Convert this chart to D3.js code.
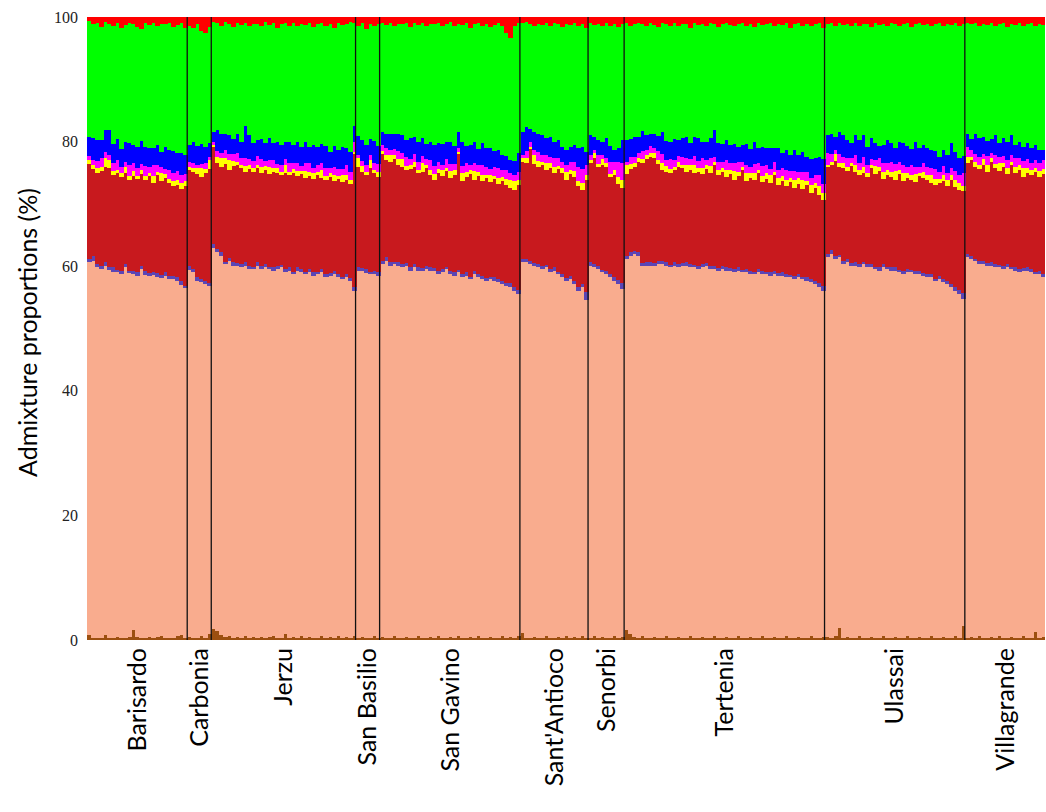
<!DOCTYPE html>
<html lang="en">
<head>
  <meta charset="UTF-8" />
  <title>Admixture proportions</title>
  <style>
    body { margin: 0; background: #fff; }
    .tick text { font-family: "Liberation Serif", "Times New Roman", serif; font-size: 16px; fill: #222; }
    .lab { font-family: Lato, "Open Sans", sans-serif; font-size: 25px; fill: #000; }
  </style>
</head>
<body>
  <div id="chart"></div>
  <script src="https://d3js.org/d3.v7.min.js"></script>
  <script>
    // populations, in plot order, and number of individuals in each
    var groups = ["Barisardo", "Carbonia", "Jerzu", "San Basilio", "San Gavino", "Sant'Antioco", "Senorbi", "Tertenia", "Ulassai", "Villagrande"]
    var groupSizes = [25, 6, 36, 6, 35, 17, 9, 50, 35, 20]
    var yTicks = [0, 20, 40, 60, 80, 100]

    // ancestry components per individual (%), bottom to top
    var brown = [
      .8,.3,.3,.4,.8,.4,.3,.5,.3,.4,.5,1.6,.5,.4,.3,.5,.4,.5,.6,.4,.3,.4,.6,.8,.4,
      .5,.3,.4,.6,.4,.9,
      1.8,1.4,.8,.5,.6,.4,.5,.3,.6,.4,.5,.3,.5,.4,.5,.6,.3,.4,.9,.4,.5,.3,.6,.4,.5,.3,.4,.7,.4,.5,.3,.6,.4,.5,.4,.6,
      .3,.5,.4,.3,.6,.4,
      .5,.3,.4,.6,.3,.4,.5,.3,.4,.6,.4,.3,.5,.4,.7,.3,.4,.5,.3,.6,.4,.3,.5,.4,.7,.3,.4,.5,.3,.4,.6,.4,.5,.4,.6,
      1.2,.4,.3,.5,.3,.4,.6,.3,.4,.5,.3,.6,.4,.5,.3,.6,.4,
      .4,.6,.3,.5,.4,.3,.6,.4,.5,
      1.6,1.0,.5,.4,.6,.3,.4,.5,.3,.4,.6,.3,.4,.5,.3,.4,.6,.3,.4,.5,.3,.4,.6,.3,.4,.5,.3,.4,.6,.3,.4,.5,.3,.4,.6,.3,.4,.5,.3,.4,.6,.3,.4,.5,.3,.4,.6,.3,.4,.5,
      .5,.4,.6,2.0,.4,.5,.3,.4,.6,.3,.4,.5,.3,.4,.6,.3,.4,.5,.3,.4,.6,.3,.4,.5,.3,.4,.6,.3,.4,.5,.3,.4,.6,.3,2.2,
      .4,.5,.3,.6,.4,.3,.5,.4,.6,.3,.4,.5,.3,.4,.6,.3,.4,1.3,.4,.5
    ]
    var salmon = [
      59.8,60.6,59.6,59.2,59.3,59.0,58.8,58.5,58.5,59.4,58.4,57.1,58.0,59.2,58.3,57.9,58.2,57.8,57.5,58.0,57.7,57.5,57.1,56.2,56.1,
      58.9,58.7,57.2,56.8,56.7,55.9,
      61.2,60.8,60.9,59.8,60.2,59.7,59.6,59.5,59.5,59.1,59.0,59.8,59.0,59.4,59.0,58.7,59.2,59.4,58.1,58.9,58.2,59.0,58.4,58.3,58.5,58.2,58.3,58.3,57.8,58.0,58.4,57.6,57.5,57.7,57.2,55.4,
      58.9,58.7,58.5,58.4,58.1,58.1,
      59.8,60.6,59.7,59.7,59.8,59.4,59.6,59.0,59.4,58.7,58.9,59.2,58.8,58.9,58.0,58.7,59.1,58.2,58.2,58.4,57.8,58.2,57.4,58.3,57.5,57.6,57.2,57.4,57.3,57.0,56.5,56.4,56.1,55.6,54.9,
      59.4,60.2,60.0,59.6,59.5,59.1,59.2,58.7,58.9,58.2,57.9,57.0,57.5,56.6,55.7,56.0,54.2,
      59.7,59.2,59.2,58.5,58.3,57.9,57.0,56.7,55.8,
      59.6,60.7,61.5,61.3,59.5,59.8,59.7,59.6,60.0,59.9,59.5,59.5,59.7,59.3,59.8,59.7,59.2,59.5,59.1,59.3,59.8,59.1,58.9,59.0,59.1,58.8,59.0,58.6,58.7,58.7,58.6,58.2,58.4,58.6,58.1,58.4,58.1,58.2,58.2,58.1,57.6,57.9,57.5,57.7,57.6,57.2,56.8,56.8,56.2,55.5,
      60.9,61.6,60.5,59.4,59.9,60.1,59.8,59.7,59.2,60.0,59.4,59.3,59.2,58.9,59.2,59.2,58.9,58.8,58.7,58.3,58.4,58.7,58.3,58.2,58.2,57.8,57.6,57.3,57.5,56.9,56.8,56.2,55.4,55.2,52.5,
      61.0,60.6,60.5,59.7,59.9,59.8,59.6,59.4,59.2,59.2,59.4,59.0,59.0,58.6,58.7,59.0,58.6,57.4,58.3,57.7
    ]
    var purple = [
      .5,.8,.4,.5,.6,.5,.7,.4,.5,.6,.4,.5,.6,.5,.7,.5,.4,.6,.5,.7,.4,.6,.5,.6,.4,
      .6,.5,.7,.5,.6,.5,
      .6,.5,.6,.4,.5,.6,.4,.5,.5,.6,.4,.5,.6,.5,.4,.6,.5,.4,.6,.5,.4,.6,.5,.4,.6,.5,.4,.6,.5,.4,.6,.5,.4,.6,.5,.7,
      .6,.5,.6,.4,.5,.6,
      .6,.5,.6,.4,.5,.6,.4,.5,.6,.5,.4,.6,.5,.4,.6,.5,.4,.6,.5,.4,.6,.5,.4,.6,.5,.6,.5,.4,.6,.5,.6,.5,.7,.6,.7,
      .5,.6,.5,.4,.6,.5,.4,.6,.5,.4,.6,.5,.6,.5,.7,.5,1.2,
      .5,.6,.5,.4,.6,.5,.6,.7,1.0,
      .5,.6,.5,.6,.4,.5,.6,.4,.5,.6,.5,.4,.6,.5,.4,.6,.5,.4,.6,.5,.4,.6,.5,.4,.6,.5,.4,.6,.5,.4,.6,.5,.4,.6,.5,.4,.6,.5,.4,.6,.5,.4,.6,.5,.4,.6,.5,.6,.7,.8,
      .5,.6,.5,.4,.6,.5,.4,.6,.5,.4,.6,.5,.4,.6,.5,.4,.6,.5,.4,.6,.5,.4,.6,.5,.4,.6,.5,.4,.6,.5,.6,.5,.6,.7,1.0,
      .6,.5,.4,.6,.5,.4,.6,.5,.4,.6,.5,.4,.6,.5,.4,.6,.5,.4,.6,.5
    ]
    var darkred = [
      15.3,13.9,14.6,15.2,15.3,15.9,14.8,15.5,15.0,14.6,14.6,15.3,14.9,14.7,14.5,15.5,14.3,15.7,15.0,15.1,15.0,14.4,14.9,14.8,15.9,
      15.4,15.7,16.5,16.4,17.2,18.3,
      15.6,13.9,13.6,15.7,14.2,15.4,15.8,15.4,14.6,15.5,15.3,15.1,14.9,15.1,14.9,15.3,14.9,14.5,15.4,14.8,15.8,14.5,15.3,15.1,14.9,15.0,15.5,14.5,15.1,15.4,14.3,15.3,15.2,15.1,15.1,21.3,
      16.2,15.5,15.1,16.7,15.7,15.2,
      17.1,15.6,16.1,16.5,15.7,15.6,14.9,15.8,15.5,15.1,15.5,15.6,14.8,14.1,15.7,14.9,15.4,14.8,15.7,18.6,14.8,15.3,16.5,14.6,15.8,15.2,16.0,15.2,15.8,15.3,15.9,15.7,15.3,15.6,16.8,
      15.7,15.3,18.0,15.9,15.5,16.2,15.2,16.2,15.2,16.5,16.1,15.7,16.3,16.7,16.1,15.2,18.0,
      15.9,16.9,15.9,16.9,16.7,15.6,16.4,15.4,15.3,
      13.1,13.3,13.5,14.5,16.0,16.6,16.9,16.8,15.6,14.5,14.6,14.7,14.7,15.7,15.2,14.5,15.2,14.7,15.0,14.5,15.1,14.9,16.2,14.9,15.0,14.5,15.1,14.3,14.7,16.0,14.0,15.0,14.7,15.3,14.3,14.9,14.2,15.4,14.1,14.6,14.2,14.9,14.1,14.5,14.1,14.8,13.9,14.8,14.1,13.8,
      14.1,13.7,15.3,14.2,14.8,14.2,15.6,14.4,14.3,14.2,13.9,15.5,14.9,15.4,13.7,14.7,14.4,14.1,15.4,14.4,14.6,14.5,14.2,15.2,15.2,15.0,14.7,15.1,14.8,15.7,15.1,16.7,16.1,16.1,16.4,
      14.5,15.4,14.8,14.7,15.5,14.7,16.1,15.4,15.1,15.8,14.5,16.4,15.1,15.9,14.6,15.1,15.1,16.1,15.0,16.1
    ]
    var yellow = [
      .7,.6,.8,.6,1.3,1.2,.7,.5,.7,.9,.6,.8,.5,.6,.7,.5,1.2,.5,1.4,.6,.6,.8,.7,1.0,.9,
      .6,.5,.9,1.5,.7,1.4,
      .2,.9,1.5,1.0,1.6,.8,.5,.6,.9,.7,.6,.5,1.0,.7,1.2,.6,.8,.5,1.3,.6,.7,.9,.5,1.1,.6,.9,.5,1.4,.7,.6,1.0,.5,1.2,.8,.7,.3,
      1.3,.9,.5,1.2,.6,.8,
      .5,.8,1.0,.6,.9,1.2,.7,.6,.9,.5,1.4,.6,.9,1.0,.6,1.1,.5,1.2,.7,.3,1.3,.8,.6,1.4,.7,.9,.6,1.1,.5,.9,.7,1.0,1.3,1.5,.8,
      .5,.8,.3,1.4,1.0,.6,1.2,.7,.9,.5,.8,1.3,.6,1.0,.9,1.1,.8,
      .6,.8,.5,.9,.6,.5,.8,1.1,1.3,
      1.4,.8,.6,.5,.7,.6,.5,.8,.6,1.2,.9,.7,.6,.8,.5,1.0,.7,1.3,.6,.9,.6,1.1,.5,.8,.6,1.2,.7,1.4,.6,.5,1.3,.8,1.2,.6,.9,1.0,1.3,.6,1.1,.8,1.0,.7,1.2,.9,1.4,.6,1.2,.8,1.5,1.2,
      .3,.5,1.1,.6,.9,.7,.5,1.2,.8,1.0,.7,.5,1.3,.6,1.1,.8,.9,1.4,.6,1.2,.9,.7,1.3,.6,1.0,.8,1.2,.9,.7,1.1,1.0,.8,1.2,1.1,.8,
      1.0,.6,.8,.6,.9,1.1,.5,.7,1.3,.6,.9,.5,1.0,.8,1.4,.7,.9,.6,1.0,.8
    ]
    var magenta = [
      .6,.8,1.2,1.5,1.0,.9,1.3,1.6,1.0,.8,1.7,1.2,1.3,1.0,1.6,1.0,1.8,1.1,.9,.8,1.4,1.2,1.5,1.3,1.1,
      .7,.8,.6,.6,.9,.5,
      .5,1.0,.8,1.2,.9,1.1,1.4,1.0,1.3,.9,1.1,1.5,1.2,.8,1.0,1.3,.7,1.1,.9,1.4,1.0,1.2,.8,1.3,1.5,.9,1.2,1.0,1.3,.8,1.4,1.1,.9,1.5,1.2,1.6,
      .6,.8,1.2,.9,1.0,1.3,
      .9,1.2,.8,1.0,1.3,.9,1.5,1.0,1.2,1.4,1.1,.9,1.6,1.3,1.2,.8,1.4,1.1,1.0,.7,1.2,1.5,.9,1.2,1.0,1.6,1.3,1.0,1.4,1.7,1.2,1.5,1.1,.9,1.3,
      .6,1.2,.8,.9,1.5,1.1,1.3,1.0,1.4,1.2,1.0,1.1,1.4,1.5,2.3,2.2,1.6,
      .7,.5,1.4,.6,.8,2.0,1.3,2.4,2.6,
      .6,1.2,1.0,.9,1.3,.8,1.2,.9,1.5,1.4,1.0,1.6,1.1,.9,1.4,1.2,1.0,1.5,1.2,1.6,.9,1.3,.8,1.4,1.1,1.5,1.0,1.2,1.6,.9,1.3,1.0,1.4,1.1,1.7,1.2,1.0,1.5,1.3,1.2,1.6,1.1,1.5,1.0,1.3,1.6,1.2,1.4,1.7,1.4,
      1.8,1.2,.7,1.4,1.0,1.3,.8,1.5,1.1,1.6,1.3,.9,1.0,1.4,1.5,1.2,1.6,1.1,1.3,1.4,1.0,1.6,1.2,1.0,1.5,1.3,1.1,1.6,1.2,1.4,1.1,1.2,1.4,1.3,2.0,
      1.6,1.0,1.2,1.3,.8,1.4,.9,1.5,1.0,1.2,1.4,1.0,1.3,1.1,1.2,1.5,1.1,1.3,1.2,1.4
    ]
    var blue = [
      3.0,3.6,3.3,2.9,3.5,4.0,3.0,3.4,2.8,3.2,3.6,2.9,3.4,3.7,3.1,3.0,2.6,3.2,2.5,3.5,3.3,3.6,2.8,3.4,3.1,
      2.8,3.4,3.0,3.2,2.6,2.3,
      1.6,3.4,3.0,2.6,3.1,2.4,3.0,2.7,5.1,3.8,2.9,2.6,3.2,2.9,3.5,2.7,3.6,3.2,2.8,3.3,2.9,3.5,3.0,3.4,2.6,3.6,2.9,3.1,3.5,2.7,3.3,3.0,3.6,2.8,3.2,2.6,
      3.0,3.4,3.2,2.5,3.6,2.9,
      2.2,2.3,2.6,2.4,2.7,3.0,2.6,3.3,2.8,3.2,2.9,2.4,2.8,3.4,3.0,3.3,2.7,3.5,2.9,2.5,3.8,2.7,3.1,3.4,2.6,3.5,3.0,3.3,2.6,2.9,2.4,2.2,2.0,2.3,3.0,
      3.7,3.8,2.1,2.8,2.9,3.1,2.6,3.2,2.6,2.9,2.4,2.4,2.3,2.6,2.9,3.5,2.1,
      3.3,2.2,2.5,2.1,3.1,2.5,2.0,2.3,3.8,
      3.5,2.8,3.1,2.5,3.2,2.4,1.9,2.2,2.4,3.5,3.0,2.8,3.3,2.5,2.9,3.4,2.6,3.0,3.6,2.7,2.9,3.2,4.3,3.0,2.8,3.3,2.9,3.1,2.5,2.6,3.4,2.8,3.5,2.4,3.0,2.7,3.4,2.2,3.6,2.5,3.1,2.6,3.4,2.8,3.2,2.4,3.0,2.6,2.9,4.0,
      3.0,3.2,2.0,3.6,3.4,3.0,2.3,3.2,3.7,3.5,2.9,3.3,2.6,2.0,2.8,3.6,2.9,2.5,3.2,3.4,3.3,2.6,4.0,2.9,2.8,3.1,3.0,2.9,2.3,2.6,3.0,3.9,3.0,2.6,2.8,
      2.2,1.8,3.3,3.0,2.7,2.4,2.2,3.1,2.2,2.8,2.9,3.3,2.1,2.6,2.3,2.6,2.3,2.4,2.1,1.6
    ]
    var green = [
      18.6,18.2,18.8,18.1,17.4,17.0,19.0,18.6,19.4,18.8,19.2,19.4,19.2,17.9,19.8,19.8,20.2,19.1,20.5,19.7,20.3,19.9,20.6,20.9,20.3,
      19.0,18.3,19.5,18.2,18.4,18.6,
      17.7,17.1,17.3,18.0,17.8,18.0,17.8,18.7,16.6,17.6,19.0,18.6,18.1,19.4,18.2,19.2,18.3,19.3,19.0,18.7,19.6,18.5,19.8,18.7,19.8,19.0,19.6,19.5,19.3,20.5,18.9,20.4,19.5,19.8,20.9,16.5,
      17.7,18.7,18.5,18.4,18.4,19.6,
      17.4,17.4,17.9,17.3,17.7,17.7,18.8,17.9,18.2,18.7,18.5,19.0,19.0,19.3,19.2,18.9,18.9,19.3,19.3,17.4,18.8,19.7,18.9,18.9,20.3,18.9,19.9,19.5,20.2,20.3,20.6,19.8,19.7,21.7,20.9,
      17.4,16.9,16.8,17.0,17.6,17.7,18.5,17.9,19.2,18.6,19.3,20.3,19.6,19.6,19.6,19.7,19.9,
      17.9,17.9,18.6,18.6,18.6,19.3,20.2,19.4,18.5,
      18.7,18.2,18.1,18.4,17.2,17.5,17.8,17.5,17.5,17.5,18.7,18.6,18.7,18.3,18.4,18.0,18.5,18.3,18.2,18.9,18.6,18.4,17.0,18.6,19.3,18.8,19.3,18.9,19.6,19.6,19.0,20.1,18.5,20.0,19.6,19.9,20.1,19.6,19.9,20.5,20.4,20.4,20.1,21.1,20.3,21.3,21.3,21.5,21.5,21.0,
      17.7,17.8,17.9,17.5,17.7,18.6,18.8,18.0,18.4,17.8,19.7,17.9,19.3,19.4,19.5,18.3,19.3,19.9,18.7,19.2,19.7,19.6,18.8,20.1,19.3,19.9,19.8,20.3,21.5,19.9,21.0,19.0,20.7,21.2,21.1,
      17.8,18.4,17.7,18.0,18.2,18.6,18.6,17.6,19.0,18.6,18.4,17.8,19.3,19.1,19.3,19.0,20.1,19.1,20.3,20.1
    ]
    var red = [
      .7,1.2,1.0,1.6,.8,1.1,1.4,1.0,1.8,1.3,1.0,1.2,1.6,2.0,1.0,1.3,.9,1.5,1.1,1.2,1.0,1.6,1.3,1.0,1.8,
      1.5,1.8,1.2,2.2,2.5,1.6,
      .8,1.0,1.5,.8,1.1,1.6,1.0,1.3,.9,1.4,1.2,1.1,1.5,.8,1.3,1.0,1.7,1.2,1.0,1.4,.9,1.5,1.1,1.3,1.0,1.6,1.2,.9,1.4,1.1,1.8,1.0,1.3,1.2,.8,1.0,
      1.4,1.0,2.0,1.2,1.5,1.1,
      1.0,1.3,.9,1.5,1.1,1.2,1.0,1.6,1.0,1.3,.9,1.4,1.1,1.2,1.0,1.5,1.2,.8,1.4,1.1,1.3,1.0,1.7,1.2,.9,1.4,1.1,1.6,1.3,1.0,1.5,2.5,3.3,1.4,1.0,
      1.0,.8,1.2,1.5,1.1,1.3,1.0,1.4,.9,1.2,1.6,1.1,1.3,1.0,1.5,1.2,1.8,
      1.0,1.3,1.1,1.5,.9,1.4,1.1,1.6,1.2,
      1.0,1.4,1.2,.9,1.1,1.5,1.0,1.3,1.6,1.0,1.2,1.4,.9,1.5,1.1,1.2,1.7,1.0,1.3,1.1,1.4,1.0,1.2,1.6,1.1,.9,1.3,1.5,1.2,1.0,1.4,1.1,1.6,1.0,1.3,1.2,.9,1.5,1.1,1.3,1.0,1.7,1.2,1.0,1.4,1.1,1.5,1.2,1.0,1.8,
      1.2,1.0,1.4,.9,1.3,1.1,1.5,1.0,1.4,1.2,1.1,1.6,1.0,1.3,1.1,1.5,1.0,1.2,1.4,1.1,1.0,1.6,1.2,1.0,1.3,1.1,1.5,1.2,1.0,1.4,1.1,1.3,1.0,1.5,1.2,
      .9,1.2,1.0,1.5,1.1,1.3,1.0,1.4,1.2,.9,1.6,1.1,1.3,1.0,1.5,1.2,1.0,1.4,1.1,1.3
    ]

    var keys = ["brown", "salmon", "purple", "darkred", "yellow", "magenta", "blue", "green", "red"]
    var cols = {
      brown: "#9c4f10", salmon: "#f9ac8e", purple: "#5b45b5", darkred: "#c8191e",
      yellow: "#ffff00", magenta: "#ff00ff", blue: "#0000ff", green: "#00ff00", red: "#ff0000"
    }
    var src = { brown: brown, salmon: salmon, purple: purple, darkred: darkred, yellow: yellow,
      magenta: magenta, blue: blue, green: green, red: red }

    var n = d3.sum(groupSizes)
    var rows = d3.range(n).map(function (i) {
      var r = { id: i }
      keys.forEach(function (k) { r[k] = src[k][i] || 0 })
      return r
    })

    var width = 1046, height = 812
    var plotL = 87, plotR = 1045, plotT = 17, plotB = 640

    var svg = d3.select("#chart").append("svg")
      .attr("width", width)
      .attr("height", height)

    var x = d3.scaleBand().domain(d3.range(n)).range([plotL, plotR]).padding(0)
    var y = d3.scaleLinear().domain([0, 1]).range([plotB, plotT])

    // each individual's row scaled to 100%
    var series = d3.stack().keys(keys).offset(d3.stackOffsetExpand)(rows)

    var bw = x.bandwidth()
    svg.append("g")
      .attr("shape-rendering", "crispEdges")
      .selectAll("g")
      .data(series)
      .enter().append("g")
      .attr("fill", function (s) { return cols[s.key] })
      .selectAll("rect")
      .data(function (s) { return s })
      .enter().append("rect")
      .attr("x", function (d) { return x(d.data.id) })
      .attr("width", function (d) { return d.data.id === n - 1 ? bw : bw + 1 })
      .attr("y", function (d) { return y(d[1]) })
      .attr("height", function (d) { return Math.max(0, y(d[0]) - y(d[1])) })

    // population separators and labels
    var starts = []
    var acc = 0
    groupSizes.forEach(function (s) { starts.push(acc); acc += s })

    svg.append("g").selectAll("line")
      .data(starts.slice(1))
      .enter().append("line")
      .attr("x1", function (s) { return x(s) })
      .attr("x2", function (s) { return x(s) })
      .attr("y1", plotT)
      .attr("y2", plotB)
      .attr("stroke", "#111")
      .attr("stroke-width", 1.3)

    svg.append("g").selectAll("text")
      .data(groups)
      .enter().append("text")
      .attr("class", "lab")
      .attr("text-anchor", "end")
      .attr("dy", "0.35em")
      .attr("transform", function (g, i) {
        var cx = x(starts[i]) + groupSizes[i] * bw / 2
        return "translate(" + cx + "," + (plotB + 8) + ") rotate(-90)"
      })
      .text(function (g) { return g })

    // y axis: labels only
    var yAxis = svg.append("g")
      .attr("transform", "translate(" + plotL + ",0)")
      .call(d3.axisLeft(y)
        .tickValues(yTicks.map(function (t) { return t / 100 }))
        .tickSize(0)
        .tickPadding(9)
        .tickFormat(function (d) { return Math.round(d * 100) }))
    yAxis.select(".domain").remove()

    svg.append("text")
      .attr("class", "lab")
      .attr("text-anchor", "middle")
      .attr("dy", "0.35em")
      .attr("transform", "translate(28," + ((plotT + plotB) / 2 + 4) + ") rotate(-90)")
      .text("Admixture proportions (%)")
  </script>
</body>
</html>
